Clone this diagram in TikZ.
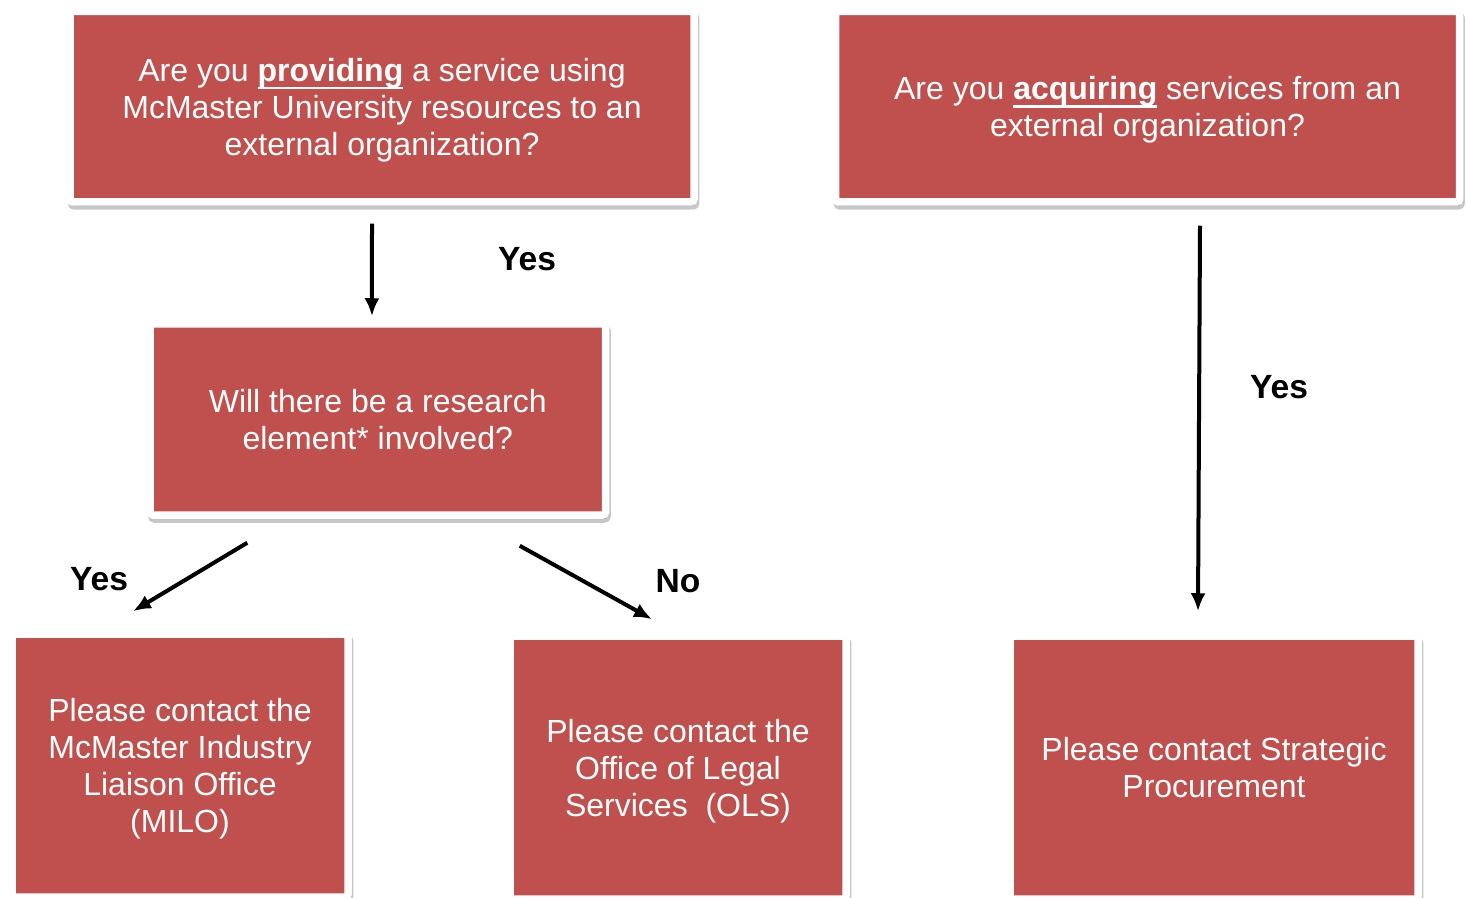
\documentclass[tikz,border=0pt]{standalone}
\usepackage{fontspec}
\setmainfont{Liberation Sans}
\usetikzlibrary{positioning,arrows.meta,shadows}
\newlength{\ulwd}
\newcommand{\ulbf}[1]{\settowidth{\ulwd}{\textbf{#1}}\rlap{\rule[-3.9pt]{\ulwd}{1.2pt}}\textbf{#1}}
\tikzset{
  >={Latex},
  box/.style  ={draw=white, line width=3.75pt, fill=boxred, text=white, align=center,
                inner sep=0pt, rounded corners=1.5pt, text depth=0pt,
                font=\fontsize{16}{18.5}\selectfont,
                drop shadow={shadow xshift=0.8pt, shadow yshift=-2pt, opacity=0.22,
                             fill=black, draw=black, line width=3.75pt}},
  lab/.style  ={font=\bfseries\fontsize{16.8}{19}\selectfont},
  flow/.style ={line width=2pt, -{Latex[length=9pt,width=7.5pt]}},
}
\definecolor{boxred}{RGB}{192,80,77}

\begin{document}
\begin{tikzpicture}[x=0.5pt, y=-0.5pt]
  \useasboundingbox (0,0) rectangle (1466,898);

  % ---------- Left: providing a service ----------
  \node[box, minimum width=312pt, minimum height=95.25pt] (qprov) at (382,106.75)
    {Are you \ulbf{providing} a service using\\McMaster University resources to an\\external organization?};
  \node[box, minimum width=227.75pt, minimum height=95.5pt] (qres) at (377.75,419.5)
    {Will there be a research\\element* involved?};
  \node[box, minimum width=168pt, minimum height=131.5pt] (milo) at (180,765.5)
    {Please contact the\\McMaster Industry\\Liaison Office\\(MILO)};
  \node[box, minimum width=168pt, minimum height=131.5pt] (ols) at (678,767.5)
    {Please contact the\\Office of Legal\\Services~~(OLS)};

  % ---------- Right: acquiring services ----------
  \node[box, minimum width=312pt, minimum height=95.25pt] (qacq) at (1147.5,106.75)
    {Are you \ulbf{acquiring} services from an\\external organization?};
  \node[box, minimum width=204pt, minimum height=131.5pt] (proc) at (1214,767.5)
    {Please contact Strategic\\Procurement};

  % arrows
  \draw[flow] ([xshift=-5pt,yshift=-9pt]qprov.south) -- ([xshift=-2.9pt,yshift=2pt]qres.north);
  \draw[flow] ([xshift=50.5pt,yshift=-12pt]qres.south west) -- ([xshift=-23.5pt,yshift=9.5pt]milo.north);
  \draw[flow] ([xshift=-44.75pt,yshift=-13.5pt]qres.south east) -- ([xshift=-13pt,yshift=6.5pt]ols.north);
  \draw[flow] ([xshift=26.25pt,yshift=-10pt]qacq.south) -- ([xshift=-8pt,yshift=10.5pt]proc.north);

  % labels
  \node[lab] (yprov) at (527,259) {Yes};
  \node[lab] (ymilo) at (99,579) {Yes};
  \node[lab] (nols) at (678,581) {No};
  \node[lab] (yacq) at (1279,387) {Yes};
\end{tikzpicture}
\end{document}
